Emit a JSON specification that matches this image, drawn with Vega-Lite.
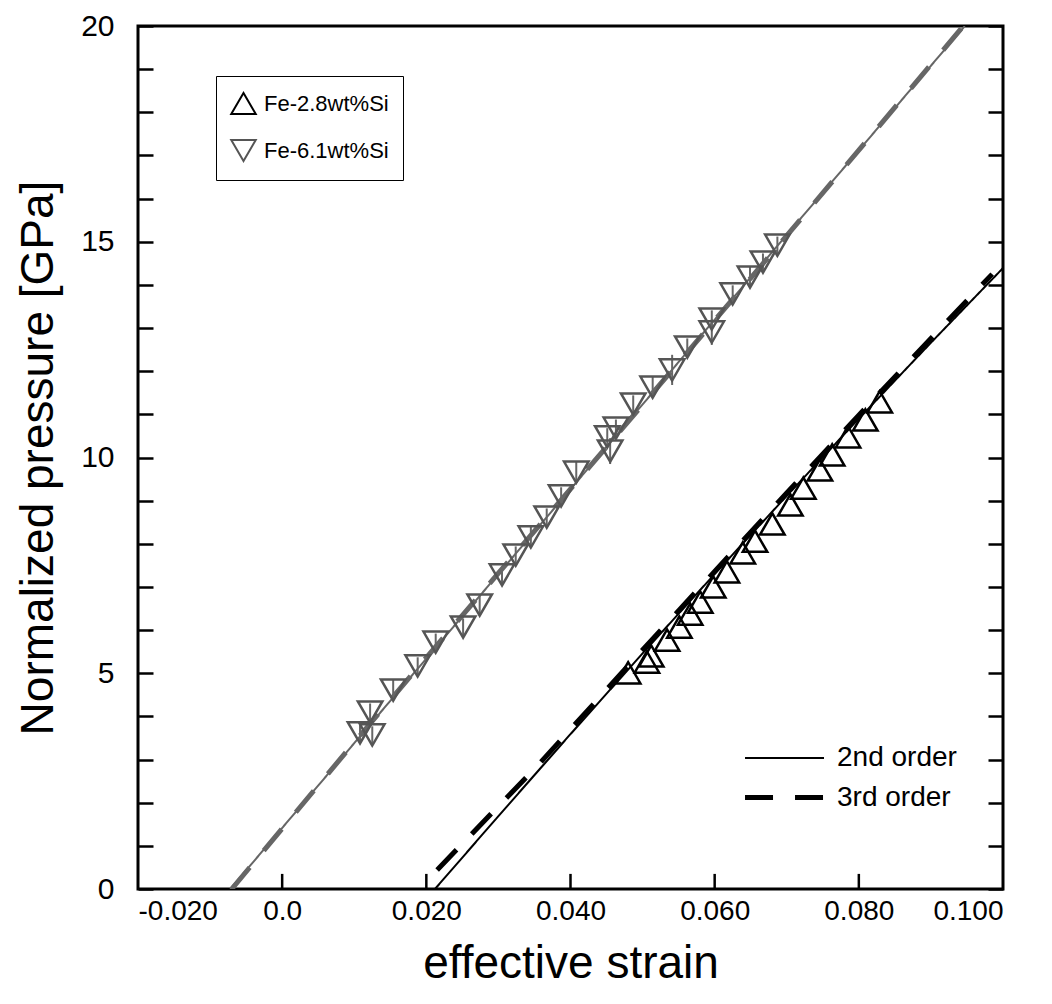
{
  "$schema": "https://vega.github.io/schema/vega-lite/v6.json",
  "width": 865,
  "height": 863,
  "autosize": {"type": "none"},
  "padding": {"left": 138, "top": 26, "right": 49, "bottom": 115},
  "background": "white",
  "config": {
    "view": {"stroke": "black", "strokeWidth": 3},
    "font": "Liberation Sans",
    "axis": {
      "domain": false, "grid": false,
      "labelFont": "Liberation Sans", "titleFont": "Liberation Sans",
      "labelColor": "black", "titleColor": "black", "tickColor": "black",
      "tickWidth": 2.5, "titleFontWeight": "normal"
    },
    "legend": {"labelFont": "Liberation Sans", "labelColor": "black"}
  },
  "datasets": {
    "xticks": [{"x": 0}, {"x": 0.02}, {"x": 0.04}, {"x": 0.06}, {"x": 0.08}],
    "lines": [
      {"mat": "Fe-6.1wt%Si", "order": "2nd order", "x": -0.0072, "y": 0},
      {"mat": "Fe-6.1wt%Si", "order": "2nd order", "x": 0.01, "y": 3.38},
      {"mat": "Fe-6.1wt%Si", "order": "2nd order", "x": 0.03, "y": 7.30},
      {"mat": "Fe-6.1wt%Si", "order": "2nd order", "x": 0.05, "y": 11.23},
      {"mat": "Fe-6.1wt%Si", "order": "2nd order", "x": 0.07, "y": 15.16},
      {"mat": "Fe-6.1wt%Si", "order": "2nd order", "x": 0.0947, "y": 20},
      {"mat": "Fe-6.1wt%Si", "order": "3rd order", "x": -0.0070, "y": 0},
      {"mat": "Fe-6.1wt%Si", "order": "3rd order", "x": 0.01, "y": 3.40},
      {"mat": "Fe-6.1wt%Si", "order": "3rd order", "x": 0.03, "y": 7.32},
      {"mat": "Fe-6.1wt%Si", "order": "3rd order", "x": 0.05, "y": 11.22},
      {"mat": "Fe-6.1wt%Si", "order": "3rd order", "x": 0.07, "y": 15.14},
      {"mat": "Fe-6.1wt%Si", "order": "3rd order", "x": 0.0945, "y": 20},
      {"mat": "Fe-2.8wt%Si", "order": "2nd order", "x": 0.0212, "y": 0},
      {"mat": "Fe-2.8wt%Si", "order": "2nd order", "x": 0.03, "y": 1.69},
      {"mat": "Fe-2.8wt%Si", "order": "2nd order", "x": 0.04, "y": 3.59},
      {"mat": "Fe-2.8wt%Si", "order": "2nd order", "x": 0.05, "y": 5.46},
      {"mat": "Fe-2.8wt%Si", "order": "2nd order", "x": 0.06, "y": 7.30},
      {"mat": "Fe-2.8wt%Si", "order": "2nd order", "x": 0.07, "y": 9.11},
      {"mat": "Fe-2.8wt%Si", "order": "2nd order", "x": 0.08, "y": 10.90},
      {"mat": "Fe-2.8wt%Si", "order": "2nd order", "x": 0.09, "y": 12.66},
      {"mat": "Fe-2.8wt%Si", "order": "2nd order", "x": 0.1, "y": 14.39},
      {"mat": "Fe-2.8wt%Si", "order": "3rd order", "x": 0.0215, "y": 0.44},
      {"mat": "Fe-2.8wt%Si", "order": "3rd order", "x": 0.025, "y": 1.05},
      {"mat": "Fe-2.8wt%Si", "order": "3rd order", "x": 0.03, "y": 1.92},
      {"mat": "Fe-2.8wt%Si", "order": "3rd order", "x": 0.035, "y": 2.78},
      {"mat": "Fe-2.8wt%Si", "order": "3rd order", "x": 0.04, "y": 3.70},
      {"mat": "Fe-2.8wt%Si", "order": "3rd order", "x": 0.05, "y": 5.54},
      {"mat": "Fe-2.8wt%Si", "order": "3rd order", "x": 0.06, "y": 7.36},
      {"mat": "Fe-2.8wt%Si", "order": "3rd order", "x": 0.07, "y": 9.18},
      {"mat": "Fe-2.8wt%Si", "order": "3rd order", "x": 0.08, "y": 10.98},
      {"mat": "Fe-2.8wt%Si", "order": "3rd order", "x": 0.09, "y": 12.76},
      {"mat": "Fe-2.8wt%Si", "order": "3rd order", "x": 0.0985, "y": 14.25}
    ],
    "pts": [
      {"mat": "Fe-2.8wt%Si", "x": 0.0480, "y": 5.01},
      {"mat": "Fe-2.8wt%Si", "x": 0.0506, "y": 5.26},
      {"mat": "Fe-2.8wt%Si", "x": 0.0512, "y": 5.40},
      {"mat": "Fe-2.8wt%Si", "x": 0.0534, "y": 5.77},
      {"mat": "Fe-2.8wt%Si", "x": 0.0551, "y": 6.07},
      {"mat": "Fe-2.8wt%Si", "x": 0.0566, "y": 6.37},
      {"mat": "Fe-2.8wt%Si", "x": 0.0580, "y": 6.65},
      {"mat": "Fe-2.8wt%Si", "x": 0.0598, "y": 7.00},
      {"mat": "Fe-2.8wt%Si", "x": 0.0617, "y": 7.35},
      {"mat": "Fe-2.8wt%Si", "x": 0.0639, "y": 7.79},
      {"mat": "Fe-2.8wt%Si", "x": 0.0656, "y": 8.06},
      {"mat": "Fe-2.8wt%Si", "x": 0.0680, "y": 8.46},
      {"mat": "Fe-2.8wt%Si", "x": 0.0705, "y": 8.90},
      {"mat": "Fe-2.8wt%Si", "x": 0.0723, "y": 9.29},
      {"mat": "Fe-2.8wt%Si", "x": 0.0746, "y": 9.71},
      {"mat": "Fe-2.8wt%Si", "x": 0.0763, "y": 10.06},
      {"mat": "Fe-2.8wt%Si", "x": 0.0785, "y": 10.48},
      {"mat": "Fe-2.8wt%Si", "x": 0.0809, "y": 10.87},
      {"mat": "Fe-2.8wt%Si", "x": 0.0829, "y": 11.29},
      {"mat": "Fe-6.1wt%Si", "x": 0.0108, "y": 3.62, "lo": 3.42, "hi": 3.82},
      {"mat": "Fe-6.1wt%Si", "x": 0.0125, "y": 3.57, "lo": 3.37, "hi": 3.77},
      {"mat": "Fe-6.1wt%Si", "x": 0.0122, "y": 4.10, "lo": 3.90, "hi": 4.30},
      {"mat": "Fe-6.1wt%Si", "x": 0.0154, "y": 4.61, "lo": 4.36, "hi": 4.86},
      {"mat": "Fe-6.1wt%Si", "x": 0.0188, "y": 5.17, "lo": 4.97, "hi": 5.37},
      {"mat": "Fe-6.1wt%Si", "x": 0.0213, "y": 5.72, "lo": 5.52, "hi": 5.92},
      {"mat": "Fe-6.1wt%Si", "x": 0.0251, "y": 6.07, "lo": 5.87, "hi": 6.27},
      {"mat": "Fe-6.1wt%Si", "x": 0.0274, "y": 6.58, "lo": 6.33, "hi": 6.83},
      {"mat": "Fe-6.1wt%Si", "x": 0.0305, "y": 7.28, "lo": 7.08, "hi": 7.48},
      {"mat": "Fe-6.1wt%Si", "x": 0.0324, "y": 7.74, "lo": 7.54, "hi": 7.94},
      {"mat": "Fe-6.1wt%Si", "x": 0.0345, "y": 8.16, "lo": 7.91, "hi": 8.41},
      {"mat": "Fe-6.1wt%Si", "x": 0.0367, "y": 8.62, "lo": 8.42, "hi": 8.82},
      {"mat": "Fe-6.1wt%Si", "x": 0.0387, "y": 9.11, "lo": 8.91, "hi": 9.31},
      {"mat": "Fe-6.1wt%Si", "x": 0.0408, "y": 9.66, "lo": 9.41, "hi": 9.91},
      {"mat": "Fe-6.1wt%Si", "x": 0.0451, "y": 10.48, "lo": 10.28, "hi": 10.68},
      {"mat": "Fe-6.1wt%Si", "x": 0.0463, "y": 10.68, "lo": 10.48, "hi": 10.88},
      {"mat": "Fe-6.1wt%Si", "x": 0.0455, "y": 10.15, "lo": 9.85, "hi": 10.45},
      {"mat": "Fe-6.1wt%Si", "x": 0.0487, "y": 11.24, "lo": 11.04, "hi": 11.44},
      {"mat": "Fe-6.1wt%Si", "x": 0.0514, "y": 11.63, "lo": 11.38, "hi": 11.88},
      {"mat": "Fe-6.1wt%Si", "x": 0.0541, "y": 12.03, "lo": 11.68, "hi": 12.38},
      {"mat": "Fe-6.1wt%Si", "x": 0.0562, "y": 12.56, "lo": 12.36, "hi": 12.76},
      {"mat": "Fe-6.1wt%Si", "x": 0.0596, "y": 13.21, "lo": 13.01, "hi": 13.41},
      {"mat": "Fe-6.1wt%Si", "x": 0.0596, "y": 12.91, "lo": 12.61, "hi": 13.21},
      {"mat": "Fe-6.1wt%Si", "x": 0.0625, "y": 13.79, "lo": 13.59, "hi": 13.99},
      {"mat": "Fe-6.1wt%Si", "x": 0.0649, "y": 14.18, "lo": 13.93, "hi": 14.43},
      {"mat": "Fe-6.1wt%Si", "x": 0.0667, "y": 14.53, "lo": 14.33, "hi": 14.73},
      {"mat": "Fe-6.1wt%Si", "x": 0.0687, "y": 14.92, "lo": 14.72, "hi": 15.12}
    ]
  },
  "layer": [
    {
      "data": {"name": "lines"},
      "mark": {"type": "line", "clip": true},
      "encoding": {
        "x": {
          "field": "x", "type": "quantitative",
          "scale": {"domain": [-0.02, 0.1], "nice": false, "zero": false},
          "axis": {
            "orient": "bottom",
            "values": [-0.02, 0, 0.02, 0.04, 0.06, 0.08, 0.1],
            "labelExpr": "datum.value == 0 ? '0.0' : (datum.value < 0 ? '-' + format(-datum.value, '.3f') : format(datum.value, '.3f'))",
            "ticks": false,
            "labelPadding": 8,
            "labelFontSize": 28,
            "title": "effective strain",
            "titleFontSize": 46,
            "titlePadding": 16
          }
        },
        "y": {
          "field": "y", "type": "quantitative",
          "scale": {"domain": [0, 20], "nice": false, "zero": false},
          "axis": {
            "orient": "left",
            "values": [0, 1, 2, 3, 4, 5, 6, 7, 8, 9, 10, 11, 12, 13, 14, 15, 16, 17, 18, 19, 20],
            "labelExpr": "datum.value % 5 == 0 ? datum.label : ''",
            "tickSize": -15,
            "labelPadding": 39,
            "labelFontSize": 30,
            "title": "Normalized pressure [GPa]",
            "titleFontSize": 46,
            "titlePadding": 18,
            "encode": {"ticks": {"update": {"x2": {"signal": "datum.value % 5 == 0 ? 15 : 8"}}}}
          }
        },
        "stroke": {
          "field": "mat", "type": "nominal",
          "scale": {"domain": ["Fe-6.1wt%Si", "Fe-2.8wt%Si"], "range": ["#666666", "black"]},
          "legend": null
        },
        "strokeDash": {
          "field": "order", "type": "nominal",
          "scale": {"domain": ["2nd order", "3rd order"], "range": [[1, 0], [28, 22]]},
          "legend": {
            "orient": "none", "legendX": 630, "legendY": 717, "title": null,
            "symbolType": "M-2.82,0L2.82,0", "symbolSize": 784,
            "labelFontSize": 28, "labelOffset": 36, "rowPadding": 9, "padding": 0,
            "symbolStrokeColor": "black",
            "encode": {"symbols": {"update": {"stroke": {"value": "black"}, "fill": {"value": "transparent"}}}}
          }
        },
        "strokeWidth": {
          "field": "order", "type": "nominal",
          "scale": {"domain": ["2nd order", "3rd order"], "range": [2, 5]},
          "legend": {
            "orient": "none", "legendX": 630, "legendY": 717, "title": null,
            "symbolType": "M-2.82,0L2.82,0", "symbolSize": 784,
            "labelFontSize": 28, "labelOffset": 36, "rowPadding": 9, "padding": 0,
            "symbolStrokeColor": "black",
            "encode": {"symbols": {"update": {"stroke": {"value": "black"}, "fill": {"value": "transparent"}}}}
          }
        }
      }
    },
    {
      "data": {"name": "xticks"},
      "mark": {"type": "rule", "strokeWidth": 2.5, "color": "black"},
      "encoding": {
        "x": {"field": "x", "type": "quantitative", "axis": null},
        "y": {"datum": 0, "type": "quantitative", "axis": null},
        "y2": {"datum": 0.35}
      }
    },
    {
      "data": {"name": "pts"},
      "transform": [{"filter": "isValid(datum.lo)"}],
      "mark": {"type": "rule", "strokeWidth": 2, "color": "#666666"},
      "encoding": {
        "x": {"field": "x", "type": "quantitative", "axis": null},
        "y": {"field": "lo", "type": "quantitative", "axis": null},
        "y2": {"field": "hi"}
      }
    },
    {
      "data": {"name": "pts"},
      "mark": {"type": "point", "filled": false, "size": 600, "strokeWidth": 2.5, "opacity": 1},
      "encoding": {
        "x": {"field": "x", "type": "quantitative", "axis": null},
        "y": {
          "field": "y", "type": "quantitative",
          "axis": {
            "orient": "right",
            "values": [0, 1, 2, 3, 4, 5, 6, 7, 8, 9, 10, 11, 12, 13, 14, 15, 16, 17, 18, 19, 20],
            "labels": false, "title": null, "tickSize": -15,
            "encode": {"ticks": {"update": {"x2": {"signal": "datum.value % 5 == 0 ? -15 : -8"}}}}
          }
        },
        "color": {
          "field": "mat", "type": "nominal",
          "scale": {"domain": ["Fe-2.8wt%Si", "Fe-6.1wt%Si"], "range": ["black", "#555555"]},
          "legend": {
            "orient": "none", "legendX": 78, "legendY": 50, "title": null,
            "symbolSize": 600, "symbolStrokeWidth": 2,
            "labelFontSize": 22, "labelOffset": 7, "rowPadding": 16, "padding": 14,
            "strokeColor": "black",
            "encode": {
              "legend": {"update": {"strokeWidth": {"value": 2}}},
              "labels": {"update": {"fill": {"signal": "datum.value == 'Fe-6.1wt%Si' ? '#6a6a6a' : 'black'"}}}
            }
          }
        },
        "shape": {
          "field": "mat", "type": "nominal",
          "scale": {"domain": ["Fe-2.8wt%Si", "Fe-6.1wt%Si"], "range": ["triangle-up", "triangle-down"]},
          "legend": {
            "orient": "none", "legendX": 78, "legendY": 50, "title": null,
            "symbolSize": 600, "symbolStrokeWidth": 2,
            "labelFontSize": 22, "labelOffset": 7, "rowPadding": 16, "padding": 14,
            "strokeColor": "black",
            "encode": {
              "legend": {"update": {"strokeWidth": {"value": 2}}},
              "labels": {"update": {"fill": {"signal": "datum.value == 'Fe-6.1wt%Si' ? '#6a6a6a' : 'black'"}}}
            }
          }
        }
      }
    }
  ],
  "resolve": {"axis": {"x": "independent", "y": "independent"}}
}
